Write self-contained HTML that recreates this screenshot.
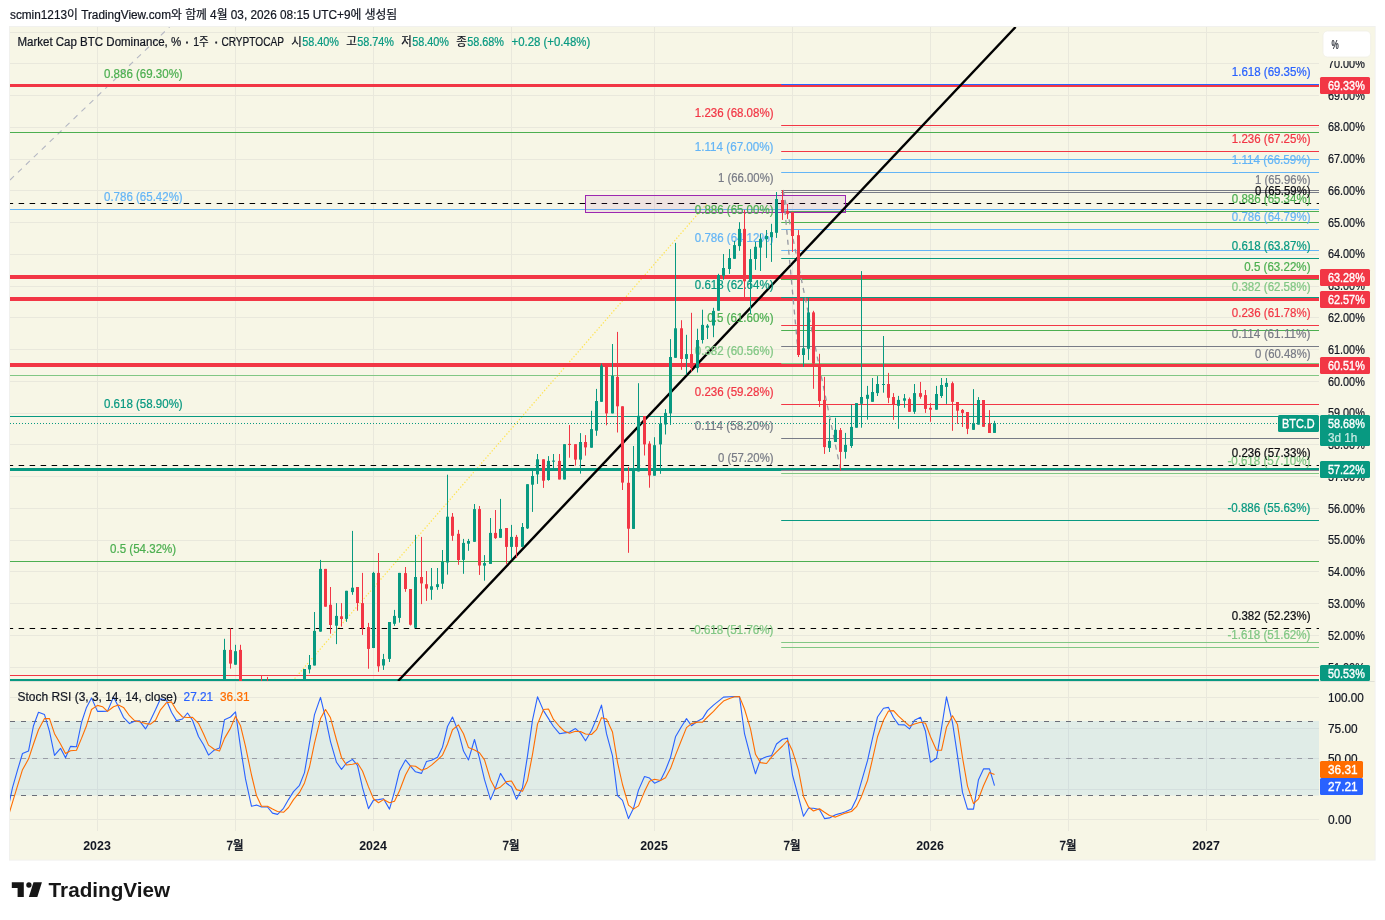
<!DOCTYPE html>
<html lang="ko"><head><meta charset="utf-8"><title>BTC.D</title>
<style>html,body{margin:0;padding:0;background:#fff;}svg{display:block}</style></head>
<body>
<svg width="1385" height="920" viewBox="0 0 1385 920" font-family='"Liberation Sans", "Noto Sans CJK KR", sans-serif'>
<rect x="0" y="0" width="1385" height="920" fill="#ffffff"/>
<text x="10.00" y="19.00" fill="#131722" font-size="12" text-anchor="start" font-weight="normal" textLength="387.2" lengthAdjust="spacingAndGlyphs" id="hdr" stroke="#131722" stroke-width="0.22">scmin1213이 TradingView.com와 함께 4월 03, 2026 08:15 UTC+9에 생성됨</text>
<rect x="9" y="26" width="1366.6" height="834.6" fill="#f1f1ee"/>
<rect x="10" y="27" width="1364.6" height="832.6" fill="#f7f6e6"/>
<clipPath id="cm"><rect x="10" y="27" width="1309" height="654"/></clipPath>
<clipPath id="cs"><rect x="10" y="681" width="1309" height="150"/></clipPath>
<line x1="97.50" y1="27.00" x2="97.50" y2="831.00" stroke="#e9e8dc" stroke-width="1"/>
<line x1="235.50" y1="27.00" x2="235.50" y2="831.00" stroke="#e9e8dc" stroke-width="1"/>
<line x1="373.50" y1="27.00" x2="373.50" y2="831.00" stroke="#e9e8dc" stroke-width="1"/>
<line x1="511.50" y1="27.00" x2="511.50" y2="831.00" stroke="#e9e8dc" stroke-width="1"/>
<line x1="654.50" y1="27.00" x2="654.50" y2="831.00" stroke="#e9e8dc" stroke-width="1"/>
<line x1="792.50" y1="27.00" x2="792.50" y2="831.00" stroke="#e9e8dc" stroke-width="1"/>
<line x1="930.50" y1="27.00" x2="930.50" y2="831.00" stroke="#e9e8dc" stroke-width="1"/>
<line x1="1068.50" y1="27.00" x2="1068.50" y2="831.00" stroke="#e9e8dc" stroke-width="1"/>
<line x1="1206.50" y1="27.00" x2="1206.50" y2="831.00" stroke="#e9e8dc" stroke-width="1"/>
<line x1="10.00" y1="667.50" x2="1319.00" y2="667.50" stroke="#e9e8dc" stroke-width="1"/>
<line x1="10.00" y1="635.50" x2="1319.00" y2="635.50" stroke="#e9e8dc" stroke-width="1"/>
<line x1="10.00" y1="603.50" x2="1319.00" y2="603.50" stroke="#e9e8dc" stroke-width="1"/>
<line x1="10.00" y1="571.50" x2="1319.00" y2="571.50" stroke="#e9e8dc" stroke-width="1"/>
<line x1="10.00" y1="540.50" x2="1319.00" y2="540.50" stroke="#e9e8dc" stroke-width="1"/>
<line x1="10.00" y1="508.50" x2="1319.00" y2="508.50" stroke="#e9e8dc" stroke-width="1"/>
<line x1="10.00" y1="476.50" x2="1319.00" y2="476.50" stroke="#e9e8dc" stroke-width="1"/>
<line x1="10.00" y1="444.50" x2="1319.00" y2="444.50" stroke="#e9e8dc" stroke-width="1"/>
<line x1="10.00" y1="413.50" x2="1319.00" y2="413.50" stroke="#e9e8dc" stroke-width="1"/>
<line x1="10.00" y1="381.50" x2="1319.00" y2="381.50" stroke="#e9e8dc" stroke-width="1"/>
<line x1="10.00" y1="349.50" x2="1319.00" y2="349.50" stroke="#e9e8dc" stroke-width="1"/>
<line x1="10.00" y1="317.50" x2="1319.00" y2="317.50" stroke="#e9e8dc" stroke-width="1"/>
<line x1="10.00" y1="286.50" x2="1319.00" y2="286.50" stroke="#e9e8dc" stroke-width="1"/>
<line x1="10.00" y1="254.50" x2="1319.00" y2="254.50" stroke="#e9e8dc" stroke-width="1"/>
<line x1="10.00" y1="222.50" x2="1319.00" y2="222.50" stroke="#e9e8dc" stroke-width="1"/>
<line x1="10.00" y1="190.50" x2="1319.00" y2="190.50" stroke="#e9e8dc" stroke-width="1"/>
<line x1="10.00" y1="159.50" x2="1319.00" y2="159.50" stroke="#e9e8dc" stroke-width="1"/>
<line x1="10.00" y1="127.50" x2="1319.00" y2="127.50" stroke="#e9e8dc" stroke-width="1"/>
<line x1="10.00" y1="95.50" x2="1319.00" y2="95.50" stroke="#e9e8dc" stroke-width="1"/>
<line x1="10.00" y1="63.50" x2="1319.00" y2="63.50" stroke="#e9e8dc" stroke-width="1"/>
<line x1="10.00" y1="32.50" x2="1319.00" y2="32.50" stroke="#e9e8dc" stroke-width="1"/>
<line x1="10.00" y1="697.50" x2="1319.00" y2="697.50" stroke="#e9e8dc" stroke-width="1"/>
<line x1="10.00" y1="728.50" x2="1319.00" y2="728.50" stroke="#e9e8dc" stroke-width="1"/>
<line x1="10.00" y1="758.50" x2="1319.00" y2="758.50" stroke="#e9e8dc" stroke-width="1"/>
<line x1="10.00" y1="789.50" x2="1319.00" y2="789.50" stroke="#e9e8dc" stroke-width="1"/>
<line x1="10.00" y1="819.50" x2="1319.00" y2="819.50" stroke="#e9e8dc" stroke-width="1"/>
<line x1="10.00" y1="681.50" x2="1374.60" y2="681.50" stroke="#e0e0d6" stroke-width="1"/>
<g clip-path="url(#cm)">
<line x1="10.00" y1="180.00" x2="170.00" y2="26.50" stroke="#b4b7c3" stroke-width="1.1" stroke-dasharray="5.5 5.5"/>
<line x1="292.50" y1="681.00" x2="706.50" y2="204.00" stroke="#ffe34f" stroke-width="1.2" stroke-dasharray="1.3 1.9"/>
<line x1="10.00" y1="86.50" x2="1319.00" y2="86.50" stroke="#4caf50" stroke-width="1"/>
<line x1="10.00" y1="132.50" x2="1319.00" y2="132.50" stroke="#4caf50" stroke-width="1"/>
<line x1="10.00" y1="209.50" x2="1319.00" y2="209.50" stroke="#64b5f6" stroke-width="1"/>
<line x1="10.00" y1="375.50" x2="1319.00" y2="375.50" stroke="#81c784" stroke-width="1"/>
<line x1="10.00" y1="416.50" x2="1319.00" y2="416.50" stroke="#089981" stroke-width="1"/>
<line x1="10.00" y1="561.50" x2="1319.00" y2="561.50" stroke="#4caf50" stroke-width="1"/>
<line x1="781.20" y1="125.50" x2="1319.00" y2="125.50" stroke="#f23645" stroke-width="1"/>
<line x1="781.20" y1="159.50" x2="1319.00" y2="159.50" stroke="#64b5f6" stroke-width="1"/>
<line x1="781.20" y1="190.50" x2="1319.00" y2="190.50" stroke="#787b86" stroke-width="1"/>
<line x1="781.20" y1="222.50" x2="1319.00" y2="222.50" stroke="#4caf50" stroke-width="1"/>
<line x1="781.20" y1="250.50" x2="1319.00" y2="250.50" stroke="#64b5f6" stroke-width="1"/>
<line x1="781.20" y1="297.50" x2="1319.00" y2="297.50" stroke="#089981" stroke-width="1"/>
<line x1="781.20" y1="330.50" x2="1319.00" y2="330.50" stroke="#4caf50" stroke-width="1"/>
<line x1="781.20" y1="363.50" x2="1319.00" y2="363.50" stroke="#81c784" stroke-width="1"/>
<line x1="781.20" y1="404.50" x2="1319.00" y2="404.50" stroke="#f23645" stroke-width="1"/>
<line x1="781.20" y1="438.50" x2="1319.00" y2="438.50" stroke="#787b86" stroke-width="1"/>
<line x1="781.20" y1="470.50" x2="1319.00" y2="470.50" stroke="#787b86" stroke-width="1"/>
<line x1="781.20" y1="642.50" x2="1319.00" y2="642.50" stroke="#81c784" stroke-width="1"/>
<line x1="781.20" y1="151.50" x2="1319.00" y2="151.50" stroke="#f23645" stroke-width="1"/>
<line x1="781.20" y1="172.50" x2="1319.00" y2="172.50" stroke="#64b5f6" stroke-width="1"/>
<line x1="781.20" y1="192.50" x2="1319.00" y2="192.50" stroke="#787b86" stroke-width="1"/>
<line x1="781.20" y1="211.50" x2="1319.00" y2="211.50" stroke="#4caf50" stroke-width="1"/>
<line x1="781.20" y1="229.50" x2="1319.00" y2="229.50" stroke="#64b5f6" stroke-width="1"/>
<line x1="781.20" y1="258.50" x2="1319.00" y2="258.50" stroke="#089981" stroke-width="1"/>
<line x1="781.20" y1="279.50" x2="1319.00" y2="279.50" stroke="#4caf50" stroke-width="1"/>
<line x1="781.20" y1="299.50" x2="1319.00" y2="299.50" stroke="#81c784" stroke-width="1"/>
<line x1="781.20" y1="325.50" x2="1319.00" y2="325.50" stroke="#f23645" stroke-width="1"/>
<line x1="781.20" y1="346.50" x2="1319.00" y2="346.50" stroke="#787b86" stroke-width="1"/>
<line x1="781.20" y1="366.50" x2="1319.00" y2="366.50" stroke="#787b86" stroke-width="1"/>
<line x1="781.20" y1="473.50" x2="1319.00" y2="473.50" stroke="#81c784" stroke-width="1"/>
<line x1="781.20" y1="520.50" x2="1319.00" y2="520.50" stroke="#089981" stroke-width="1"/>
<line x1="781.20" y1="647.50" x2="1319.00" y2="647.50" stroke="#81c784" stroke-width="1"/>
<line x1="10.00" y1="85.50" x2="1319.00" y2="85.50" stroke="#f23645" stroke-width="3"/>
<line x1="781.20" y1="84.50" x2="1319.00" y2="84.50" stroke="#2962ff" stroke-width="1"/>
<line x1="10.00" y1="277.00" x2="1319.00" y2="277.00" stroke="#f23645" stroke-width="4"/>
<line x1="781.20" y1="279.50" x2="1319.00" y2="279.50" stroke="#4caf50" stroke-width="1"/>
<line x1="10.00" y1="299.00" x2="1319.00" y2="299.00" stroke="#f23645" stroke-width="4"/>
<line x1="781.20" y1="297.50" x2="1319.00" y2="297.50" stroke="#089981" stroke-width="1"/>
<line x1="10.00" y1="365.00" x2="1319.00" y2="365.00" stroke="#f23645" stroke-width="4"/>
<line x1="781.20" y1="363.50" x2="1319.00" y2="363.50" stroke="#81c784" stroke-width="1"/>
<line x1="10.00" y1="469.50" x2="1319.00" y2="469.50" stroke="#089981" stroke-width="3"/>
<line x1="781.20" y1="470.50" x2="1319.00" y2="470.50" stroke="#8a7f92" stroke-width="1"/>
<line x1="10.00" y1="675.50" x2="1319.00" y2="675.50" stroke="#f23645" stroke-width="1"/>
<line x1="10.00" y1="680.50" x2="1319.00" y2="680.50" stroke="#089981" stroke-width="3"/>
<line x1="10" y1="203.5" x2="1319" y2="203.5" stroke="#000000" stroke-width="1" stroke-dasharray="5.5 5.5" stroke-dashoffset="2.35"/>
<line x1="10" y1="465.5" x2="1319" y2="465.5" stroke="#000000" stroke-width="1" stroke-dasharray="5.5 5.5" stroke-dashoffset="2.35"/>
<line x1="10" y1="628.5" x2="1319" y2="628.5" stroke="#000000" stroke-width="1" stroke-dasharray="5.5 5.5" stroke-dashoffset="2.35"/>
<rect x="585.5" y="195.5" width="260" height="17" fill="rgba(156,39,176,0.09)" stroke="#9c27b0" stroke-width="1"/>
<line x1="398.10" y1="681.00" x2="1015.60" y2="27.00" stroke="#000000" stroke-width="2.4"/>
<line x1="783.00" y1="190.00" x2="798.60" y2="357.00" stroke="#9598a1" stroke-width="1.3" stroke-dasharray="5 5"/>
<line x1="783.00" y1="190.00" x2="840.60" y2="470.00" stroke="#9598a1" stroke-width="1.3" stroke-dasharray="5 5"/>
<text x="104.00" y="78.20" fill="#4caf50" font-size="12" text-anchor="start" font-weight="normal" textLength="78.7" lengthAdjust="spacingAndGlyphs" stroke="#4caf50" stroke-width="0.22">0.886 (69.30%)</text>
<text x="104.00" y="201.20" fill="#64b5f6" font-size="12" text-anchor="start" font-weight="normal" textLength="78.7" lengthAdjust="spacingAndGlyphs" stroke="#64b5f6" stroke-width="0.22">0.786 (65.42%)</text>
<text x="104.00" y="408.20" fill="#089981" font-size="12" text-anchor="start" font-weight="normal" textLength="78.7" lengthAdjust="spacingAndGlyphs" stroke="#089981" stroke-width="0.22">0.618 (58.90%)</text>
<text x="110.00" y="553.20" fill="#4caf50" font-size="12" text-anchor="start" font-weight="normal" textLength="66.2" lengthAdjust="spacingAndGlyphs" stroke="#4caf50" stroke-width="0.22">0.5 (54.32%)</text>
<text x="773.50" y="117.20" fill="#f23645" font-size="12" text-anchor="end" font-weight="normal" textLength="78.7" lengthAdjust="spacingAndGlyphs" stroke="#f23645" stroke-width="0.22">1.236 (68.08%)</text>
<text x="773.50" y="151.20" fill="#64b5f6" font-size="12" text-anchor="end" font-weight="normal" textLength="78.7" lengthAdjust="spacingAndGlyphs" stroke="#64b5f6" stroke-width="0.22">1.114 (67.00%)</text>
<text x="773.50" y="182.20" fill="#787b86" font-size="12" text-anchor="end" font-weight="normal" textLength="55.5" lengthAdjust="spacingAndGlyphs" stroke="#787b86" stroke-width="0.22">1 (66.00%)</text>
<text x="773.50" y="214.20" fill="#4caf50" font-size="12" text-anchor="end" font-weight="normal" textLength="78.7" lengthAdjust="spacingAndGlyphs" stroke="#4caf50" stroke-width="0.22">0.886 (65.00%)</text>
<text x="773.50" y="242.20" fill="#64b5f6" font-size="12" text-anchor="end" font-weight="normal" textLength="78.7" lengthAdjust="spacingAndGlyphs" stroke="#64b5f6" stroke-width="0.22">0.786 (64.12%)</text>
<text x="773.50" y="289.20" fill="#089981" font-size="12" text-anchor="end" font-weight="normal" textLength="78.7" lengthAdjust="spacingAndGlyphs" stroke="#089981" stroke-width="0.22">0.618 (62.64%)</text>
<text x="773.50" y="322.20" fill="#4caf50" font-size="12" text-anchor="end" font-weight="normal" textLength="66.2" lengthAdjust="spacingAndGlyphs" stroke="#4caf50" stroke-width="0.22">0.5 (61.60%)</text>
<text x="773.50" y="355.20" fill="#81c784" font-size="12" text-anchor="end" font-weight="normal" textLength="78.7" lengthAdjust="spacingAndGlyphs" stroke="#81c784" stroke-width="0.22">0.382 (60.56%)</text>
<text x="773.50" y="396.20" fill="#f23645" font-size="12" text-anchor="end" font-weight="normal" textLength="78.7" lengthAdjust="spacingAndGlyphs" stroke="#f23645" stroke-width="0.22">0.236 (59.28%)</text>
<text x="773.50" y="430.20" fill="#787b86" font-size="12" text-anchor="end" font-weight="normal" textLength="78.7" lengthAdjust="spacingAndGlyphs" stroke="#787b86" stroke-width="0.22">0.114 (58.20%)</text>
<text x="773.50" y="462.20" fill="#787b86" font-size="12" text-anchor="end" font-weight="normal" textLength="55.5" lengthAdjust="spacingAndGlyphs" stroke="#787b86" stroke-width="0.22">0 (57.20%)</text>
<text x="773.50" y="634.20" fill="#81c784" font-size="12" text-anchor="end" font-weight="normal" textLength="83.1" lengthAdjust="spacingAndGlyphs" stroke="#81c784" stroke-width="0.22">-0.618 (51.76%)</text>
<text x="1310.50" y="76.20" fill="#2962ff" font-size="12" text-anchor="end" font-weight="normal" textLength="78.7" lengthAdjust="spacingAndGlyphs" stroke="#2962ff" stroke-width="0.22">1.618 (69.35%)</text>
<text x="1310.50" y="143.20" fill="#f23645" font-size="12" text-anchor="end" font-weight="normal" textLength="78.7" lengthAdjust="spacingAndGlyphs" stroke="#f23645" stroke-width="0.22">1.236 (67.25%)</text>
<text x="1310.50" y="164.20" fill="#64b5f6" font-size="12" text-anchor="end" font-weight="normal" textLength="78.7" lengthAdjust="spacingAndGlyphs" stroke="#64b5f6" stroke-width="0.22">1.114 (66.59%)</text>
<text x="1310.50" y="184.20" fill="#787b86" font-size="12" text-anchor="end" font-weight="normal" textLength="55.5" lengthAdjust="spacingAndGlyphs" stroke="#787b86" stroke-width="0.22">1 (65.96%)</text>
<text x="1310.50" y="203.20" fill="#4caf50" font-size="12" text-anchor="end" font-weight="normal" textLength="78.7" lengthAdjust="spacingAndGlyphs" stroke="#4caf50" stroke-width="0.22">0.886 (65.34%)</text>
<text x="1310.50" y="221.20" fill="#64b5f6" font-size="12" text-anchor="end" font-weight="normal" textLength="78.7" lengthAdjust="spacingAndGlyphs" stroke="#64b5f6" stroke-width="0.22">0.786 (64.79%)</text>
<text x="1310.50" y="250.20" fill="#089981" font-size="12" text-anchor="end" font-weight="normal" textLength="78.7" lengthAdjust="spacingAndGlyphs" stroke="#089981" stroke-width="0.22">0.618 (63.87%)</text>
<text x="1310.50" y="271.20" fill="#4caf50" font-size="12" text-anchor="end" font-weight="normal" textLength="66.2" lengthAdjust="spacingAndGlyphs" stroke="#4caf50" stroke-width="0.22">0.5 (63.22%)</text>
<text x="1310.50" y="291.20" fill="#81c784" font-size="12" text-anchor="end" font-weight="normal" textLength="78.7" lengthAdjust="spacingAndGlyphs" stroke="#81c784" stroke-width="0.22">0.382 (62.58%)</text>
<text x="1310.50" y="317.20" fill="#f23645" font-size="12" text-anchor="end" font-weight="normal" textLength="78.7" lengthAdjust="spacingAndGlyphs" stroke="#f23645" stroke-width="0.22">0.236 (61.78%)</text>
<text x="1310.50" y="338.20" fill="#787b86" font-size="12" text-anchor="end" font-weight="normal" textLength="78.7" lengthAdjust="spacingAndGlyphs" stroke="#787b86" stroke-width="0.22">0.114 (61.11%)</text>
<text x="1310.50" y="358.20" fill="#787b86" font-size="12" text-anchor="end" font-weight="normal" textLength="55.5" lengthAdjust="spacingAndGlyphs" stroke="#787b86" stroke-width="0.22">0 (60.48%)</text>
<text x="1310.50" y="465.20" fill="#81c784" font-size="12" text-anchor="end" font-weight="normal" textLength="83.1" lengthAdjust="spacingAndGlyphs" stroke="#81c784" stroke-width="0.22">-0.618 (57.10%)</text>
<text x="1310.50" y="512.20" fill="#089981" font-size="12" text-anchor="end" font-weight="normal" textLength="83.1" lengthAdjust="spacingAndGlyphs" stroke="#089981" stroke-width="0.22">-0.886 (55.63%)</text>
<text x="1310.50" y="639.20" fill="#81c784" font-size="12" text-anchor="end" font-weight="normal" textLength="83.1" lengthAdjust="spacingAndGlyphs" stroke="#81c784" stroke-width="0.22">-1.618 (51.62%)</text>
<text x="1310.50" y="195.20" fill="#0c0d12" font-size="12" text-anchor="end" font-weight="normal" textLength="55.5" lengthAdjust="spacingAndGlyphs" stroke="#0c0d12" stroke-width="0.22">0 (65.59%)</text>
<text x="1310.50" y="457.20" fill="#0c0d12" font-size="12" text-anchor="end" font-weight="normal" textLength="78.7" lengthAdjust="spacingAndGlyphs" stroke="#0c0d12" stroke-width="0.22">0.236 (57.33%)</text>
<text x="1310.50" y="620.20" fill="#0c0d12" font-size="12" text-anchor="end" font-weight="normal" textLength="78.7" lengthAdjust="spacingAndGlyphs" stroke="#0c0d12" stroke-width="0.22">0.382 (52.23%)</text>
<rect x="224.0" y="638.8" width="1" height="61.2" fill="#089981"/>
<rect x="223.0" y="649.9" width="3" height="50.1" fill="#089981"/>
<rect x="230.0" y="628.3" width="1" height="40.3" fill="#f23645"/>
<rect x="229.0" y="649.9" width="3" height="13.7" fill="#f23645"/>
<rect x="235.0" y="644.8" width="1" height="19.9" fill="#089981"/>
<rect x="234.0" y="651.2" width="3" height="13.5" fill="#089981"/>
<rect x="240.0" y="644.8" width="1" height="55.2" fill="#f23645"/>
<rect x="239.0" y="649.9" width="3" height="50.1" fill="#f23645"/>
<rect x="261.0" y="675.0" width="1" height="25.0" fill="#f23645"/>
<rect x="260.0" y="700.0" width="3" height="1.0" fill="#f23645"/>
<rect x="267.0" y="676.9" width="1" height="23.1" fill="#f23645"/>
<rect x="266.0" y="700.0" width="3" height="1.0" fill="#f23645"/>
<rect x="304.0" y="669.0" width="1" height="31.0" fill="#089981"/>
<rect x="303.0" y="669.0" width="3" height="31.0" fill="#089981"/>
<rect x="309.0" y="655.0" width="1" height="18.4" fill="#089981"/>
<rect x="308.0" y="665.0" width="3" height="4.4" fill="#089981"/>
<rect x="314.0" y="612.0" width="1" height="53.5" fill="#089981"/>
<rect x="313.0" y="630.9" width="3" height="34.6" fill="#089981"/>
<rect x="320.0" y="559.9" width="1" height="71.8" fill="#089981"/>
<rect x="319.0" y="568.9" width="3" height="62.7" fill="#089981"/>
<rect x="325.0" y="568.9" width="1" height="37.8" fill="#f23645"/>
<rect x="324.0" y="568.9" width="3" height="37.8" fill="#f23645"/>
<rect x="330.0" y="587.0" width="1" height="46.7" fill="#f23645"/>
<rect x="329.0" y="604.8" width="3" height="20.2" fill="#f23645"/>
<rect x="336.0" y="603.1" width="1" height="41.0" fill="#089981"/>
<rect x="335.0" y="615.9" width="3" height="9.8" fill="#089981"/>
<rect x="341.0" y="603.1" width="1" height="23.5" fill="#f23645"/>
<rect x="340.0" y="616.3" width="3" height="2.7" fill="#f23645"/>
<rect x="346.0" y="590.8" width="1" height="31.0" fill="#089981"/>
<rect x="345.0" y="590.8" width="3" height="28.1" fill="#089981"/>
<rect x="352.0" y="530.9" width="1" height="63.9" fill="#089981"/>
<rect x="351.0" y="587.7" width="3" height="4.4" fill="#089981"/>
<rect x="357.0" y="587.0" width="1" height="23.7" fill="#f23645"/>
<rect x="356.0" y="587.0" width="3" height="16.0" fill="#f23645"/>
<rect x="362.0" y="572.9" width="1" height="62.0" fill="#f23645"/>
<rect x="361.0" y="603.1" width="3" height="25.1" fill="#f23645"/>
<rect x="368.0" y="622.9" width="1" height="45.8" fill="#f23645"/>
<rect x="367.0" y="627.1" width="3" height="21.8" fill="#f23645"/>
<rect x="373.0" y="571.8" width="1" height="76.3" fill="#089981"/>
<rect x="372.0" y="572.9" width="3" height="75.1" fill="#089981"/>
<rect x="378.0" y="553.0" width="1" height="118.8" fill="#f23645"/>
<rect x="377.0" y="572.9" width="3" height="93.4" fill="#f23645"/>
<rect x="383.0" y="653.9" width="1" height="16.0" fill="#089981"/>
<rect x="382.0" y="659.1" width="3" height="6.4" fill="#089981"/>
<rect x="389.0" y="622.0" width="1" height="40.0" fill="#089981"/>
<rect x="388.0" y="622.0" width="3" height="36.9" fill="#089981"/>
<rect x="394.0" y="609.9" width="1" height="15.9" fill="#089981"/>
<rect x="393.0" y="615.9" width="3" height="7.9" fill="#089981"/>
<rect x="399.0" y="572.9" width="1" height="49.7" fill="#089981"/>
<rect x="398.0" y="572.9" width="3" height="45.0" fill="#089981"/>
<rect x="405.0" y="567.0" width="1" height="24.8" fill="#f23645"/>
<rect x="404.0" y="573.1" width="3" height="15.9" fill="#f23645"/>
<rect x="410.0" y="589.0" width="1" height="36.5" fill="#f23645"/>
<rect x="409.0" y="589.0" width="3" height="35.7" fill="#f23645"/>
<rect x="415.0" y="534.9" width="1" height="92.9" fill="#089981"/>
<rect x="414.0" y="577.0" width="3" height="50.8" fill="#089981"/>
<rect x="421.0" y="536.9" width="1" height="67.2" fill="#f23645"/>
<rect x="420.0" y="577.0" width="3" height="6.4" fill="#f23645"/>
<rect x="426.0" y="571.0" width="1" height="29.9" fill="#f23645"/>
<rect x="425.0" y="584.2" width="3" height="4.4" fill="#f23645"/>
<rect x="431.0" y="568.0" width="1" height="31.8" fill="#089981"/>
<rect x="430.0" y="586.3" width="3" height="3.5" fill="#089981"/>
<rect x="437.0" y="568.0" width="1" height="21.8" fill="#089981"/>
<rect x="436.0" y="584.2" width="3" height="2.9" fill="#089981"/>
<rect x="442.0" y="550.0" width="1" height="38.9" fill="#089981"/>
<rect x="441.0" y="561.6" width="3" height="22.1" fill="#089981"/>
<rect x="447.0" y="474.7" width="1" height="99.9" fill="#089981"/>
<rect x="446.0" y="516.7" width="3" height="45.8" fill="#089981"/>
<rect x="452.0" y="513.0" width="1" height="27.8" fill="#f23645"/>
<rect x="451.0" y="516.7" width="3" height="19.1" fill="#f23645"/>
<rect x="458.0" y="529.9" width="1" height="34.9" fill="#f23645"/>
<rect x="457.0" y="533.8" width="3" height="26.2" fill="#f23645"/>
<rect x="463.0" y="538.9" width="1" height="34.9" fill="#089981"/>
<rect x="462.0" y="542.9" width="3" height="17.0" fill="#089981"/>
<rect x="468.0" y="538.9" width="1" height="11.9" fill="#089981"/>
<rect x="467.0" y="541.0" width="3" height="2.7" fill="#089981"/>
<rect x="474.0" y="504.0" width="1" height="37.8" fill="#089981"/>
<rect x="473.0" y="509.1" width="3" height="32.7" fill="#089981"/>
<rect x="479.0" y="506.0" width="1" height="68.9" fill="#f23645"/>
<rect x="478.0" y="509.1" width="3" height="56.4" fill="#f23645"/>
<rect x="484.0" y="555.1" width="1" height="25.6" fill="#089981"/>
<rect x="483.0" y="563.1" width="3" height="2.5" fill="#089981"/>
<rect x="490.0" y="518.0" width="1" height="45.9" fill="#089981"/>
<rect x="489.0" y="532.9" width="3" height="31.0" fill="#089981"/>
<rect x="495.0" y="510.0" width="1" height="28.9" fill="#f23645"/>
<rect x="494.0" y="532.9" width="3" height="5.2" fill="#f23645"/>
<rect x="500.0" y="498.9" width="1" height="38.9" fill="#089981"/>
<rect x="499.0" y="528.9" width="3" height="8.9" fill="#089981"/>
<rect x="506.0" y="528.0" width="1" height="35.9" fill="#f23645"/>
<rect x="505.0" y="528.0" width="3" height="18.9" fill="#f23645"/>
<rect x="511.0" y="524.9" width="1" height="34.2" fill="#089981"/>
<rect x="510.0" y="536.9" width="3" height="10.0" fill="#089981"/>
<rect x="516.0" y="534.9" width="1" height="23.0" fill="#f23645"/>
<rect x="515.0" y="536.9" width="3" height="10.0" fill="#f23645"/>
<rect x="522.0" y="523.0" width="1" height="23.8" fill="#089981"/>
<rect x="521.0" y="527.0" width="3" height="19.9" fill="#089981"/>
<rect x="527.0" y="484.2" width="1" height="44.8" fill="#089981"/>
<rect x="526.0" y="484.2" width="3" height="44.2" fill="#089981"/>
<rect x="532.0" y="469.6" width="1" height="42.3" fill="#089981"/>
<rect x="531.0" y="476.0" width="3" height="8.7" fill="#089981"/>
<rect x="537.0" y="454.0" width="1" height="29.9" fill="#089981"/>
<rect x="536.0" y="459.3" width="3" height="15.1" fill="#089981"/>
<rect x="543.0" y="459.3" width="1" height="28.6" fill="#f23645"/>
<rect x="542.0" y="459.3" width="3" height="21.4" fill="#f23645"/>
<rect x="548.0" y="456.1" width="1" height="24.6" fill="#089981"/>
<rect x="547.0" y="460.9" width="3" height="19.1" fill="#089981"/>
<rect x="553.0" y="454.0" width="1" height="14.0" fill="#089981"/>
<rect x="552.0" y="460.6" width="3" height="1.1" fill="#089981"/>
<rect x="559.0" y="454.0" width="1" height="25.4" fill="#f23645"/>
<rect x="558.0" y="460.9" width="3" height="18.6" fill="#f23645"/>
<rect x="564.0" y="444.2" width="1" height="35.3" fill="#089981"/>
<rect x="563.0" y="444.2" width="3" height="35.3" fill="#089981"/>
<rect x="569.0" y="425.1" width="1" height="32.6" fill="#f23645"/>
<rect x="568.0" y="443.9" width="3" height="1.1" fill="#f23645"/>
<rect x="575.0" y="444.2" width="1" height="21.4" fill="#f23645"/>
<rect x="574.0" y="444.2" width="3" height="15.4" fill="#f23645"/>
<rect x="580.0" y="433.1" width="1" height="40.5" fill="#089981"/>
<rect x="579.0" y="442.0" width="3" height="17.6" fill="#089981"/>
<rect x="585.0" y="435.1" width="1" height="20.5" fill="#f23645"/>
<rect x="584.0" y="442.0" width="3" height="5.4" fill="#f23645"/>
<rect x="591.0" y="410.8" width="1" height="36.9" fill="#089981"/>
<rect x="590.0" y="429.1" width="3" height="18.6" fill="#089981"/>
<rect x="596.0" y="388.9" width="1" height="46.9" fill="#089981"/>
<rect x="595.0" y="401.0" width="3" height="29.7" fill="#089981"/>
<rect x="601.0" y="363.5" width="1" height="38.3" fill="#089981"/>
<rect x="600.0" y="365.6" width="3" height="36.2" fill="#089981"/>
<rect x="606.0" y="365.7" width="1" height="59.6" fill="#f23645"/>
<rect x="605.0" y="365.7" width="3" height="47.7" fill="#f23645"/>
<rect x="612.0" y="344.0" width="1" height="69.4" fill="#089981"/>
<rect x="611.0" y="375.8" width="3" height="37.6" fill="#089981"/>
<rect x="617.0" y="331.9" width="1" height="100.6" fill="#f23645"/>
<rect x="616.0" y="376.9" width="3" height="29.4" fill="#f23645"/>
<rect x="622.0" y="406.3" width="1" height="83.7" fill="#f23645"/>
<rect x="621.0" y="406.3" width="3" height="76.3" fill="#f23645"/>
<rect x="628.0" y="466.9" width="1" height="85.9" fill="#f23645"/>
<rect x="627.0" y="482.8" width="3" height="45.9" fill="#f23645"/>
<rect x="633.0" y="446.0" width="1" height="82.9" fill="#089981"/>
<rect x="632.0" y="468.2" width="3" height="60.7" fill="#089981"/>
<rect x="638.0" y="383.2" width="1" height="88.2" fill="#089981"/>
<rect x="637.0" y="415.8" width="3" height="55.6" fill="#089981"/>
<rect x="644.0" y="416.1" width="1" height="39.4" fill="#f23645"/>
<rect x="643.0" y="416.1" width="3" height="28.3" fill="#f23645"/>
<rect x="649.0" y="441.2" width="1" height="46.5" fill="#f23645"/>
<rect x="648.0" y="443.6" width="3" height="31.8" fill="#f23645"/>
<rect x="654.0" y="437.2" width="1" height="38.4" fill="#089981"/>
<rect x="653.0" y="445.2" width="3" height="30.5" fill="#089981"/>
<rect x="660.0" y="416.6" width="1" height="57.2" fill="#089981"/>
<rect x="659.0" y="423.7" width="3" height="20.7" fill="#089981"/>
<rect x="665.0" y="409.1" width="1" height="25.4" fill="#089981"/>
<rect x="664.0" y="412.9" width="3" height="11.6" fill="#089981"/>
<rect x="670.0" y="339.1" width="1" height="85.8" fill="#089981"/>
<rect x="669.0" y="357.0" width="3" height="56.4" fill="#089981"/>
<rect x="675.0" y="242.9" width="1" height="114.9" fill="#089981"/>
<rect x="674.0" y="328.3" width="3" height="29.5" fill="#089981"/>
<rect x="681.0" y="320.2" width="1" height="49.6" fill="#f23645"/>
<rect x="680.0" y="328.3" width="3" height="30.7" fill="#f23645"/>
<rect x="686.0" y="334.8" width="1" height="39.7" fill="#089981"/>
<rect x="685.0" y="354.1" width="3" height="4.8" fill="#089981"/>
<rect x="691.0" y="312.8" width="1" height="58.8" fill="#f23645"/>
<rect x="690.0" y="354.1" width="3" height="14.0" fill="#f23645"/>
<rect x="697.0" y="328.7" width="1" height="43.8" fill="#089981"/>
<rect x="696.0" y="340.0" width="3" height="28.1" fill="#089981"/>
<rect x="702.0" y="309.7" width="1" height="33.8" fill="#089981"/>
<rect x="701.0" y="324.9" width="3" height="15.1" fill="#089981"/>
<rect x="707.0" y="324.1" width="1" height="14.9" fill="#089981"/>
<rect x="706.0" y="325.6" width="3" height="2.1" fill="#089981"/>
<rect x="713.0" y="307.8" width="1" height="29.4" fill="#089981"/>
<rect x="712.0" y="310.9" width="3" height="14.6" fill="#089981"/>
<rect x="718.0" y="273.8" width="1" height="36.9" fill="#089981"/>
<rect x="717.0" y="275.0" width="3" height="35.7" fill="#089981"/>
<rect x="723.0" y="254.0" width="1" height="25.7" fill="#089981"/>
<rect x="722.0" y="268.0" width="3" height="7.8" fill="#089981"/>
<rect x="729.0" y="249.1" width="1" height="24.8" fill="#089981"/>
<rect x="728.0" y="258.0" width="3" height="11.0" fill="#089981"/>
<rect x="734.0" y="240.8" width="1" height="18.0" fill="#089981"/>
<rect x="733.0" y="245.1" width="3" height="13.7" fill="#089981"/>
<rect x="739.0" y="222.2" width="1" height="28.6" fill="#089981"/>
<rect x="738.0" y="228.9" width="3" height="17.2" fill="#089981"/>
<rect x="744.0" y="209.8" width="1" height="87.4" fill="#f23645"/>
<rect x="743.0" y="228.9" width="3" height="52.4" fill="#f23645"/>
<rect x="750.0" y="249.1" width="1" height="64.8" fill="#089981"/>
<rect x="749.0" y="259.1" width="3" height="23.0" fill="#089981"/>
<rect x="755.0" y="241.9" width="1" height="28.0" fill="#089981"/>
<rect x="754.0" y="246.8" width="3" height="12.2" fill="#089981"/>
<rect x="760.0" y="233.7" width="1" height="37.3" fill="#089981"/>
<rect x="759.0" y="238.9" width="3" height="8.7" fill="#089981"/>
<rect x="766.0" y="230.0" width="1" height="28.0" fill="#089981"/>
<rect x="765.0" y="236.0" width="3" height="3.2" fill="#089981"/>
<rect x="771.0" y="223.8" width="1" height="38.1" fill="#089981"/>
<rect x="770.0" y="232.1" width="3" height="5.1" fill="#089981"/>
<rect x="776.0" y="192.0" width="1" height="45.9" fill="#089981"/>
<rect x="775.0" y="199.0" width="3" height="33.8" fill="#089981"/>
<rect x="782.0" y="190.0" width="1" height="29.9" fill="#f23645"/>
<rect x="781.0" y="200.0" width="3" height="12.2" fill="#f23645"/>
<rect x="787.0" y="204.0" width="1" height="14.9" fill="#f23645"/>
<rect x="786.0" y="210.9" width="3" height="2.9" fill="#f23645"/>
<rect x="792.0" y="212.2" width="1" height="39.7" fill="#f23645"/>
<rect x="791.0" y="212.2" width="3" height="23.8" fill="#f23645"/>
<rect x="798.0" y="230.1" width="1" height="126.9" fill="#f23645"/>
<rect x="797.0" y="235.2" width="3" height="119.8" fill="#f23645"/>
<rect x="803.0" y="298.1" width="1" height="68.8" fill="#089981"/>
<rect x="802.0" y="348.3" width="3" height="6.7" fill="#089981"/>
<rect x="808.0" y="298.1" width="1" height="61.8" fill="#089981"/>
<rect x="807.0" y="312.4" width="3" height="36.4" fill="#089981"/>
<rect x="813.0" y="310.8" width="1" height="78.0" fill="#f23645"/>
<rect x="812.0" y="312.4" width="3" height="51.3" fill="#f23645"/>
<rect x="819.0" y="353.8" width="1" height="53.2" fill="#f23645"/>
<rect x="818.0" y="365.7" width="3" height="35.3" fill="#f23645"/>
<rect x="824.0" y="376.9" width="1" height="77.0" fill="#f23645"/>
<rect x="823.0" y="399.9" width="3" height="47.2" fill="#f23645"/>
<rect x="829.0" y="419.0" width="1" height="33.0" fill="#089981"/>
<rect x="828.0" y="440.9" width="3" height="7.0" fill="#089981"/>
<rect x="835.0" y="417.8" width="1" height="24.1" fill="#089981"/>
<rect x="834.0" y="429.8" width="3" height="12.2" fill="#089981"/>
<rect x="840.0" y="428.0" width="1" height="42.6" fill="#f23645"/>
<rect x="839.0" y="430.1" width="3" height="21.8" fill="#f23645"/>
<rect x="845.0" y="432.9" width="1" height="25.7" fill="#089981"/>
<rect x="844.0" y="444.9" width="3" height="7.0" fill="#089981"/>
<rect x="851.0" y="404.7" width="1" height="43.2" fill="#089981"/>
<rect x="850.0" y="426.9" width="3" height="19.1" fill="#089981"/>
<rect x="856.0" y="403.1" width="1" height="24.6" fill="#089981"/>
<rect x="855.0" y="403.1" width="3" height="24.6" fill="#089981"/>
<rect x="861.0" y="271.1" width="1" height="156.6" fill="#089981"/>
<rect x="860.0" y="397.0" width="3" height="6.8" fill="#089981"/>
<rect x="867.0" y="385.9" width="1" height="33.8" fill="#089981"/>
<rect x="866.0" y="394.8" width="3" height="4.0" fill="#089981"/>
<rect x="872.0" y="378.0" width="1" height="23.8" fill="#089981"/>
<rect x="871.0" y="392.0" width="3" height="9.8" fill="#089981"/>
<rect x="877.0" y="376.1" width="1" height="19.9" fill="#089981"/>
<rect x="876.0" y="384.0" width="3" height="9.1" fill="#089981"/>
<rect x="883.0" y="336.0" width="1" height="56.7" fill="#089981"/>
<rect x="882.0" y="384.0" width="3" height="1.0" fill="#089981"/>
<rect x="888.0" y="372.9" width="1" height="30.2" fill="#f23645"/>
<rect x="887.0" y="384.0" width="3" height="13.8" fill="#f23645"/>
<rect x="893.0" y="393.1" width="1" height="26.7" fill="#f23645"/>
<rect x="892.0" y="397.0" width="3" height="7.6" fill="#f23645"/>
<rect x="898.0" y="395.9" width="1" height="32.9" fill="#089981"/>
<rect x="897.0" y="399.9" width="3" height="5.9" fill="#089981"/>
<rect x="904.0" y="394.0" width="1" height="13.8" fill="#089981"/>
<rect x="903.0" y="398.3" width="3" height="2.4" fill="#089981"/>
<rect x="909.0" y="397.5" width="1" height="14.3" fill="#f23645"/>
<rect x="908.0" y="399.1" width="3" height="12.7" fill="#f23645"/>
<rect x="914.0" y="384.0" width="1" height="29.9" fill="#089981"/>
<rect x="913.0" y="393.1" width="3" height="18.7" fill="#089981"/>
<rect x="920.0" y="381.9" width="1" height="16.8" fill="#f23645"/>
<rect x="919.0" y="393.1" width="3" height="3.7" fill="#f23645"/>
<rect x="925.0" y="390.0" width="1" height="22.9" fill="#f23645"/>
<rect x="924.0" y="395.1" width="3" height="13.8" fill="#f23645"/>
<rect x="930.0" y="403.1" width="1" height="18.7" fill="#f23645"/>
<rect x="929.0" y="407.8" width="3" height="1.9" fill="#f23645"/>
<rect x="936.0" y="385.9" width="1" height="23.8" fill="#089981"/>
<rect x="935.0" y="394.0" width="3" height="15.7" fill="#089981"/>
<rect x="941.0" y="378.0" width="1" height="19.9" fill="#089981"/>
<rect x="940.0" y="385.0" width="3" height="11.0" fill="#089981"/>
<rect x="946.0" y="378.0" width="1" height="25.9" fill="#089981"/>
<rect x="945.0" y="382.9" width="3" height="4.0" fill="#089981"/>
<rect x="952.0" y="381.6" width="1" height="49.2" fill="#f23645"/>
<rect x="951.0" y="383.2" width="3" height="18.6" fill="#f23645"/>
<rect x="957.0" y="402.0" width="1" height="21.8" fill="#f23645"/>
<rect x="956.0" y="402.0" width="3" height="8.7" fill="#f23645"/>
<rect x="962.0" y="409.0" width="1" height="18.0" fill="#f23645"/>
<rect x="961.0" y="409.9" width="3" height="3.0" fill="#f23645"/>
<rect x="967.0" y="412.0" width="1" height="22.1" fill="#f23645"/>
<rect x="966.0" y="412.0" width="3" height="16.8" fill="#f23645"/>
<rect x="973.0" y="389.1" width="1" height="40.8" fill="#089981"/>
<rect x="972.0" y="423.1" width="3" height="6.7" fill="#089981"/>
<rect x="978.0" y="397.1" width="1" height="27.5" fill="#089981"/>
<rect x="977.0" y="400.0" width="3" height="24.6" fill="#089981"/>
<rect x="983.0" y="400.0" width="1" height="26.8" fill="#f23645"/>
<rect x="982.0" y="400.0" width="3" height="26.8" fill="#f23645"/>
<rect x="989.0" y="410.1" width="1" height="22.9" fill="#f23645"/>
<rect x="988.0" y="423.4" width="3" height="9.6" fill="#f23645"/>
<rect x="994.0" y="420.8" width="1" height="12.1" fill="#089981"/>
<rect x="993.0" y="423.1" width="3" height="9.8" fill="#089981"/>
<line x1="10.00" y1="423.50" x2="1319.00" y2="423.50" stroke="#089981" stroke-width="1" stroke-dasharray="1 2"/>
</g>
<text x="17.40" y="46.40" fill="#131722" font-size="12" text-anchor="start" font-weight="normal" textLength="163.8" lengthAdjust="spacingAndGlyphs" stroke="#131722" stroke-width="0.22">Market Cap BTC Dominance, %</text>
<text x="186.90" y="46.40" fill="#131722" font-size="12" text-anchor="middle" font-weight="normal" stroke="#131722" stroke-width="0.6">·</text>
<text x="193.30" y="46.40" fill="#131722" font-size="12" text-anchor="start" font-weight="normal" textLength="15.4" lengthAdjust="spacingAndGlyphs" stroke="#131722" stroke-width="0.22">1주</text>
<text x="216.20" y="46.40" fill="#131722" font-size="12" text-anchor="middle" font-weight="normal" stroke="#131722" stroke-width="0.6">·</text>
<text x="221.40" y="46.40" fill="#131722" font-size="12" text-anchor="start" font-weight="normal" textLength="62.6" lengthAdjust="spacingAndGlyphs" stroke="#131722" stroke-width="0.22">CRYPTOCAP</text>
<text x="291.30" y="46.40" fill="#131722" font-size="12" text-anchor="start" font-weight="normal" textLength="10.6" lengthAdjust="spacingAndGlyphs" stroke="#131722" stroke-width="0.22">시</text>
<text x="302.20" y="46.40" fill="#089981" font-size="12" text-anchor="start" font-weight="normal" textLength="36.8" lengthAdjust="spacingAndGlyphs" stroke="#089981" stroke-width="0.22">58.40%</text>
<text x="346.30" y="46.40" fill="#131722" font-size="12" text-anchor="start" font-weight="normal" textLength="10.6" lengthAdjust="spacingAndGlyphs" stroke="#131722" stroke-width="0.22">고</text>
<text x="357.20" y="46.40" fill="#089981" font-size="12" text-anchor="start" font-weight="normal" textLength="36.8" lengthAdjust="spacingAndGlyphs" stroke="#089981" stroke-width="0.22">58.74%</text>
<text x="401.30" y="46.40" fill="#131722" font-size="12" text-anchor="start" font-weight="normal" textLength="10.6" lengthAdjust="spacingAndGlyphs" stroke="#131722" stroke-width="0.22">저</text>
<text x="412.20" y="46.40" fill="#089981" font-size="12" text-anchor="start" font-weight="normal" textLength="36.8" lengthAdjust="spacingAndGlyphs" stroke="#089981" stroke-width="0.22">58.40%</text>
<text x="456.30" y="46.40" fill="#131722" font-size="12" text-anchor="start" font-weight="normal" textLength="10.6" lengthAdjust="spacingAndGlyphs" stroke="#131722" stroke-width="0.22">종</text>
<text x="467.20" y="46.40" fill="#089981" font-size="12" text-anchor="start" font-weight="normal" textLength="36.8" lengthAdjust="spacingAndGlyphs" stroke="#089981" stroke-width="0.22">58.68%</text>
<text x="511.50" y="46.40" fill="#089981" font-size="12" text-anchor="start" font-weight="normal" textLength="78.7" lengthAdjust="spacingAndGlyphs" stroke="#089981" stroke-width="0.22">+0.28 (+0.48%)</text>
<g clip-path="url(#cs)">
<rect x="10" y="721" width="1309" height="74.5" fill="rgba(33,150,243,0.1)"/>
<line x1="10.00" y1="721.50" x2="1319.00" y2="721.50" stroke="#6a6d78" stroke-width="1" stroke-dasharray="5 6"/>
<line x1="10.00" y1="758.50" x2="1319.00" y2="758.50" stroke="#9a9da6" stroke-width="1" stroke-dasharray="5 6"/>
<line x1="10.00" y1="795.50" x2="1319.00" y2="795.50" stroke="#6a6d78" stroke-width="1" stroke-dasharray="5 6"/>
<polyline points="7.5,811.0 12.5,787.7 17.5,770.2 22.5,753.5 28.5,751.1 33.5,725.7 38.5,712.2 44.5,714.6 49.5,731.3 54.5,755.4 60.5,748.3 65.5,757.8 70.5,746.4 76.5,746.7 81.5,722.5 86.5,707.4 91.5,697.9 97.5,711.4 102.5,711.4 107.5,711.1 113.5,697.1 118.5,706.7 123.5,717.3 129.5,723.6 134.5,721.3 139.5,720.9 145.5,728.9 150.5,720.2 155.5,709.8 160.5,698.7 166.5,700.3 171.5,712.2 176.5,720.6 182.5,719.0 187.5,713.0 192.5,720.2 198.5,736.5 203.5,744.8 208.5,755.1 214.5,749.9 219.5,748.0 224.5,719.7 230.5,717.0 235.5,711.9 240.5,747.2 245.5,778.9 251.5,806.3 256.5,805.1 261.5,807.0 267.5,807.0 272.5,813.1 277.5,814.4 283.5,808.3 288.5,799.6 293.5,791.6 299.5,785.3 304.5,772.6 309.5,743.2 314.5,714.6 320.5,697.4 325.5,717.8 330.5,741.6 336.5,762.3 341.5,769.4 346.5,763.0 352.5,759.4 357.5,765.4 362.5,787.7 368.5,808.6 373.5,800.1 378.5,799.6 383.5,798.8 389.5,809.1 394.5,791.6 399.5,771.0 405.5,759.9 410.5,766.2 415.5,771.8 421.5,773.4 426.5,761.5 431.5,760.3 437.5,757.2 442.5,747.2 447.5,726.5 452.5,717.0 458.5,732.1 463.5,751.1 468.5,759.9 474.5,739.5 479.5,758.3 484.5,779.7 490.5,799.6 495.5,787.7 500.5,773.4 506.5,783.2 511.5,786.9 516.5,799.3 522.5,787.7 527.5,755.9 532.5,720.2 537.5,696.8 543.5,710.6 548.5,718.6 553.5,726.5 559.5,733.7 564.5,732.9 569.5,732.1 575.5,728.6 580.5,732.9 585.5,740.8 591.5,730.5 596.5,718.6 601.5,705.1 606.5,733.7 612.5,755.9 617.5,795.6 622.5,800.4 628.5,818.6 633.5,808.3 638.5,790.1 644.5,776.5 649.5,778.1 654.5,783.2 660.5,780.5 665.5,770.2 670.5,757.5 675.5,736.8 681.5,726.5 686.5,718.6 691.5,725.7 697.5,721.3 702.5,718.6 707.5,710.6 713.5,705.1 718.5,701.1 723.5,697.1 729.5,696.8 734.5,696.6 739.5,696.6 744.5,733.7 750.5,756.7 755.5,773.8 760.5,759.4 766.5,756.7 771.5,755.6 776.5,744.0 782.5,739.2 787.5,738.1 792.5,775.0 798.5,797.2 803.5,816.3 808.5,808.3 813.5,808.3 819.5,809.6 824.5,818.6 829.5,817.9 835.5,814.7 840.5,813.4 845.5,811.8 851.5,809.1 856.5,798.8 861.5,781.3 867.5,760.7 872.5,738.4 877.5,717.0 883.5,708.2 888.5,707.4 893.5,717.5 898.5,724.6 904.5,724.9 909.5,728.9 914.5,720.2 920.5,717.3 925.5,731.3 930.5,762.3 936.5,758.3 941.5,728.1 946.5,696.8 952.5,722.5 957.5,755.9 962.5,792.4 967.5,809.1 973.5,809.1 978.5,779.7 983.5,768.9 989.5,768.9 994.5,785.6" fill="none" stroke="#2962ff" stroke-width="1.1" stroke-linejoin="round"/>
<polyline points="7.5,819.0 12.5,802.4 17.5,785.8 22.5,769.7 28.5,759.1 33.5,744.0 38.5,729.7 44.5,718.6 49.5,718.6 54.5,733.7 60.5,744.0 65.5,753.5 70.5,750.7 76.5,750.3 81.5,738.4 86.5,725.7 91.5,709.5 97.5,705.4 102.5,706.7 107.5,711.4 113.5,706.7 118.5,705.1 123.5,707.4 129.5,715.7 134.5,720.6 139.5,721.7 145.5,723.6 150.5,724.1 155.5,720.2 160.5,709.8 166.5,702.7 171.5,701.9 176.5,710.6 182.5,717.0 187.5,717.5 192.5,717.3 198.5,723.3 203.5,733.7 208.5,745.1 214.5,749.5 219.5,751.1 224.5,738.4 230.5,728.1 235.5,716.2 240.5,725.7 245.5,746.4 251.5,775.0 256.5,795.6 261.5,806.3 267.5,806.3 272.5,809.1 277.5,811.5 283.5,812.3 288.5,807.5 293.5,799.6 299.5,792.4 304.5,782.9 309.5,767.0 314.5,743.2 320.5,718.6 325.5,709.5 330.5,717.8 336.5,740.0 341.5,757.5 346.5,765.0 352.5,764.2 357.5,763.0 362.5,771.0 368.5,786.9 373.5,798.8 378.5,802.8 383.5,799.6 389.5,802.8 394.5,801.2 399.5,790.8 405.5,775.0 410.5,765.7 415.5,766.2 421.5,770.2 426.5,768.6 431.5,765.1 437.5,759.9 442.5,755.1 447.5,744.0 452.5,729.7 458.5,724.9 463.5,733.7 468.5,747.6 474.5,749.9 479.5,752.7 484.5,759.9 490.5,779.7 495.5,789.3 500.5,786.9 506.5,781.6 511.5,781.0 516.5,789.6 522.5,791.2 527.5,780.5 532.5,754.3 537.5,724.1 543.5,709.5 548.5,709.0 553.5,719.4 559.5,726.5 564.5,731.3 569.5,733.2 575.5,731.3 580.5,731.6 585.5,734.0 591.5,734.5 596.5,729.7 601.5,717.8 606.5,719.0 612.5,732.1 617.5,762.3 622.5,784.5 628.5,805.1 633.5,809.1 638.5,805.9 644.5,791.6 649.5,781.3 654.5,779.2 660.5,780.5 665.5,777.8 670.5,768.6 675.5,755.1 681.5,740.0 686.5,727.6 691.5,723.6 697.5,722.1 702.5,722.2 707.5,717.0 713.5,711.4 718.5,705.9 723.5,701.1 729.5,698.4 734.5,696.8 739.5,696.6 744.5,709.0 750.5,728.9 755.5,754.3 760.5,762.6 766.5,763.5 771.5,757.2 776.5,751.9 782.5,746.0 787.5,740.5 792.5,751.1 798.5,770.2 803.5,796.4 808.5,807.0 813.5,811.0 819.5,808.8 824.5,812.3 829.5,815.5 835.5,817.1 840.5,815.0 845.5,813.1 851.5,811.5 856.5,806.7 861.5,796.4 867.5,780.5 872.5,759.1 877.5,736.8 883.5,720.2 888.5,711.1 893.5,710.6 898.5,716.2 904.5,721.7 909.5,726.0 914.5,724.1 920.5,722.2 925.5,723.3 930.5,736.8 936.5,750.3 941.5,750.3 946.5,727.3 952.5,715.7 957.5,724.6 962.5,757.5 967.5,786.1 973.5,803.6 978.5,798.8 983.5,785.8 989.5,772.6 994.5,774.5" fill="none" stroke="#ff6d00" stroke-width="1.1" stroke-linejoin="round"/>
</g>
<text x="17.50" y="701.00" fill="#131722" font-size="12" text-anchor="start" font-weight="normal" textLength="159.5" lengthAdjust="spacingAndGlyphs" stroke="#131722" stroke-width="0.22">Stoch RSI (3, 3, 14, 14, close)</text>
<text x="183.60" y="701.00" fill="#2962ff" font-size="12" text-anchor="start" font-weight="normal" textLength="29.6" lengthAdjust="spacingAndGlyphs" stroke="#2962ff" stroke-width="0.22">27.21</text>
<text x="220.00" y="701.00" fill="#ff6d00" font-size="12" text-anchor="start" font-weight="normal" textLength="29.6" lengthAdjust="spacingAndGlyphs" stroke="#ff6d00" stroke-width="0.22">36.31</text>
<text x="1328.00" y="671.56" fill="#131722" font-size="12" text-anchor="start" font-weight="normal" textLength="36.8" lengthAdjust="spacingAndGlyphs" stroke="#131722" stroke-width="0.22">51.00%</text>
<text x="1328.00" y="639.78" fill="#131722" font-size="12" text-anchor="start" font-weight="normal" textLength="36.8" lengthAdjust="spacingAndGlyphs" stroke="#131722" stroke-width="0.22">52.00%</text>
<text x="1328.00" y="608.00" fill="#131722" font-size="12" text-anchor="start" font-weight="normal" textLength="36.8" lengthAdjust="spacingAndGlyphs" stroke="#131722" stroke-width="0.22">53.00%</text>
<text x="1328.00" y="576.22" fill="#131722" font-size="12" text-anchor="start" font-weight="normal" textLength="36.8" lengthAdjust="spacingAndGlyphs" stroke="#131722" stroke-width="0.22">54.00%</text>
<text x="1328.00" y="544.44" fill="#131722" font-size="12" text-anchor="start" font-weight="normal" textLength="36.8" lengthAdjust="spacingAndGlyphs" stroke="#131722" stroke-width="0.22">55.00%</text>
<text x="1328.00" y="512.66" fill="#131722" font-size="12" text-anchor="start" font-weight="normal" textLength="36.8" lengthAdjust="spacingAndGlyphs" stroke="#131722" stroke-width="0.22">56.00%</text>
<text x="1328.00" y="480.88" fill="#131722" font-size="12" text-anchor="start" font-weight="normal" textLength="36.8" lengthAdjust="spacingAndGlyphs" stroke="#131722" stroke-width="0.22">57.00%</text>
<text x="1328.00" y="449.10" fill="#131722" font-size="12" text-anchor="start" font-weight="normal" textLength="36.8" lengthAdjust="spacingAndGlyphs" stroke="#131722" stroke-width="0.22">58.00%</text>
<text x="1328.00" y="417.32" fill="#131722" font-size="12" text-anchor="start" font-weight="normal" textLength="36.8" lengthAdjust="spacingAndGlyphs" stroke="#131722" stroke-width="0.22">59.00%</text>
<text x="1328.00" y="385.54" fill="#131722" font-size="12" text-anchor="start" font-weight="normal" textLength="36.8" lengthAdjust="spacingAndGlyphs" stroke="#131722" stroke-width="0.22">60.00%</text>
<text x="1328.00" y="353.76" fill="#131722" font-size="12" text-anchor="start" font-weight="normal" textLength="36.8" lengthAdjust="spacingAndGlyphs" stroke="#131722" stroke-width="0.22">61.00%</text>
<text x="1328.00" y="321.98" fill="#131722" font-size="12" text-anchor="start" font-weight="normal" textLength="36.8" lengthAdjust="spacingAndGlyphs" stroke="#131722" stroke-width="0.22">62.00%</text>
<text x="1328.00" y="290.20" fill="#131722" font-size="12" text-anchor="start" font-weight="normal" textLength="36.8" lengthAdjust="spacingAndGlyphs" stroke="#131722" stroke-width="0.22">63.00%</text>
<text x="1328.00" y="258.42" fill="#131722" font-size="12" text-anchor="start" font-weight="normal" textLength="36.8" lengthAdjust="spacingAndGlyphs" stroke="#131722" stroke-width="0.22">64.00%</text>
<text x="1328.00" y="226.64" fill="#131722" font-size="12" text-anchor="start" font-weight="normal" textLength="36.8" lengthAdjust="spacingAndGlyphs" stroke="#131722" stroke-width="0.22">65.00%</text>
<text x="1328.00" y="194.86" fill="#131722" font-size="12" text-anchor="start" font-weight="normal" textLength="36.8" lengthAdjust="spacingAndGlyphs" stroke="#131722" stroke-width="0.22">66.00%</text>
<text x="1328.00" y="163.08" fill="#131722" font-size="12" text-anchor="start" font-weight="normal" textLength="36.8" lengthAdjust="spacingAndGlyphs" stroke="#131722" stroke-width="0.22">67.00%</text>
<text x="1328.00" y="131.30" fill="#131722" font-size="12" text-anchor="start" font-weight="normal" textLength="36.8" lengthAdjust="spacingAndGlyphs" stroke="#131722" stroke-width="0.22">68.00%</text>
<text x="1328.00" y="99.52" fill="#131722" font-size="12" text-anchor="start" font-weight="normal" textLength="36.8" lengthAdjust="spacingAndGlyphs" stroke="#131722" stroke-width="0.22">69.00%</text>
<text x="1328.00" y="67.74" fill="#131722" font-size="12" text-anchor="start" font-weight="normal" textLength="36.8" lengthAdjust="spacingAndGlyphs" stroke="#131722" stroke-width="0.22">70.00%</text>
<rect x="1320" y="27" width="54.59999999999991" height="34" fill="#f7f6e6"/>
<rect x="1323" y="31" width="47.6" height="26" rx="4.5" fill="#ffffff" stroke="#f0efe6" stroke-width="0.8"/>
<text x="1331.50" y="48.50" fill="#131722" font-size="12" text-anchor="start" font-weight="normal" textLength="7.2" lengthAdjust="spacingAndGlyphs" stroke="#131722" stroke-width="0.22">%</text>
<text x="1328.00" y="702.20" fill="#131722" font-size="12" text-anchor="start" font-weight="normal" textLength="35.8" lengthAdjust="spacingAndGlyphs" stroke="#131722" stroke-width="0.22">100.00</text>
<text x="1328.00" y="732.73" fill="#131722" font-size="12" text-anchor="start" font-weight="normal" textLength="29.6" lengthAdjust="spacingAndGlyphs" stroke="#131722" stroke-width="0.22">75.00</text>
<text x="1328.00" y="763.25" fill="#131722" font-size="12" text-anchor="start" font-weight="normal" textLength="29.6" lengthAdjust="spacingAndGlyphs" stroke="#131722" stroke-width="0.22">50.00</text>
<text x="1328.00" y="793.78" fill="#131722" font-size="12" text-anchor="start" font-weight="normal" textLength="29.6" lengthAdjust="spacingAndGlyphs" stroke="#131722" stroke-width="0.22">25.00</text>
<text x="1328.00" y="824.30" fill="#131722" font-size="12" text-anchor="start" font-weight="normal" textLength="23.3" lengthAdjust="spacingAndGlyphs" stroke="#131722" stroke-width="0.22">0.00</text>
<rect x="1320" y="77" width="50" height="17" rx="1.5" fill="#f23645"/>
<text x="1328.00" y="89.90" fill="#ffffff" font-size="12" text-anchor="start" font-weight="normal" textLength="36.8" lengthAdjust="spacingAndGlyphs" stroke="#ffffff" stroke-width="0.35">69.33%</text>
<rect x="1320" y="269" width="50" height="17" rx="1.5" fill="#f23645"/>
<text x="1328.00" y="281.90" fill="#ffffff" font-size="12" text-anchor="start" font-weight="normal" textLength="36.8" lengthAdjust="spacingAndGlyphs" stroke="#ffffff" stroke-width="0.35">63.28%</text>
<rect x="1320" y="291" width="50" height="17" rx="1.5" fill="#f23645"/>
<text x="1328.00" y="303.90" fill="#ffffff" font-size="12" text-anchor="start" font-weight="normal" textLength="36.8" lengthAdjust="spacingAndGlyphs" stroke="#ffffff" stroke-width="0.35">62.57%</text>
<rect x="1320" y="357" width="50" height="17" rx="1.5" fill="#f23645"/>
<text x="1328.00" y="369.90" fill="#ffffff" font-size="12" text-anchor="start" font-weight="normal" textLength="36.8" lengthAdjust="spacingAndGlyphs" stroke="#ffffff" stroke-width="0.35">60.51%</text>
<rect x="1320" y="461" width="50" height="17" rx="1.5" fill="#089981"/>
<text x="1328.00" y="473.90" fill="#ffffff" font-size="12" text-anchor="start" font-weight="normal" textLength="36.8" lengthAdjust="spacingAndGlyphs" stroke="#ffffff" stroke-width="0.35">57.22%</text>
<rect x="1320" y="665" width="50" height="16" rx="1.5" fill="#089981"/>
<text x="1328.00" y="678.10" fill="#ffffff" font-size="12" text-anchor="start" font-weight="normal" textLength="36.8" lengthAdjust="spacingAndGlyphs" stroke="#ffffff" stroke-width="0.35">50.53%</text>
<rect x="1320" y="415" width="50" height="31" rx="1.5" fill="#089981"/>
<text x="1328.00" y="427.90" fill="#ffffff" font-size="12" text-anchor="start" font-weight="normal" textLength="36.8" lengthAdjust="spacingAndGlyphs" stroke="#ffffff" stroke-width="0.35">58.68%</text>
<text x="1328.00" y="441.80" fill="#c9ebe4" font-size="12" text-anchor="start" font-weight="normal" textLength="29.4" lengthAdjust="spacingAndGlyphs" stroke="#c9ebe4" stroke-width="0.22">3d 1h</text>
<rect x="1278" y="415" width="41" height="17" rx="1.5" fill="#089981"/>
<text x="1282.00" y="427.90" fill="#ffffff" font-size="12" text-anchor="start" font-weight="normal" textLength="32.7" lengthAdjust="spacingAndGlyphs" stroke="#ffffff" stroke-width="0.35">BTC.D</text>
<rect x="1320" y="761" width="43" height="17" rx="1.5" fill="#ff6d00"/>
<text x="1328.00" y="773.90" fill="#ffffff" font-size="12" text-anchor="start" font-weight="normal" textLength="29.6" lengthAdjust="spacingAndGlyphs" stroke="#ffffff" stroke-width="0.35">36.31</text>
<rect x="1320" y="778" width="43" height="17" rx="1.5" fill="#2962ff"/>
<text x="1328.00" y="790.90" fill="#ffffff" font-size="12" text-anchor="start" font-weight="normal" textLength="29.6" lengthAdjust="spacingAndGlyphs" stroke="#ffffff" stroke-width="0.35">27.21</text>
<text x="97.00" y="850.00" fill="#131722" font-size="12" text-anchor="middle" font-weight="bold" textLength="27.6" lengthAdjust="spacingAndGlyphs" stroke="none">2023</text>
<text x="235.00" y="850.00" fill="#131722" font-size="12" text-anchor="middle" font-weight="normal" textLength="17.0" lengthAdjust="spacingAndGlyphs" stroke="#131722" stroke-width="0.5">7월</text>
<text x="373.00" y="850.00" fill="#131722" font-size="12" text-anchor="middle" font-weight="bold" textLength="27.6" lengthAdjust="spacingAndGlyphs" stroke="none">2024</text>
<text x="511.00" y="850.00" fill="#131722" font-size="12" text-anchor="middle" font-weight="normal" textLength="17.0" lengthAdjust="spacingAndGlyphs" stroke="#131722" stroke-width="0.5">7월</text>
<text x="654.00" y="850.00" fill="#131722" font-size="12" text-anchor="middle" font-weight="bold" textLength="27.6" lengthAdjust="spacingAndGlyphs" stroke="none">2025</text>
<text x="792.00" y="850.00" fill="#131722" font-size="12" text-anchor="middle" font-weight="normal" textLength="17.0" lengthAdjust="spacingAndGlyphs" stroke="#131722" stroke-width="0.5">7월</text>
<text x="930.00" y="850.00" fill="#131722" font-size="12" text-anchor="middle" font-weight="bold" textLength="27.6" lengthAdjust="spacingAndGlyphs" stroke="none">2026</text>
<text x="1068.00" y="850.00" fill="#131722" font-size="12" text-anchor="middle" font-weight="normal" textLength="17.0" lengthAdjust="spacingAndGlyphs" stroke="#131722" stroke-width="0.5">7월</text>
<text x="1206.00" y="850.00" fill="#131722" font-size="12" text-anchor="middle" font-weight="bold" textLength="27.6" lengthAdjust="spacingAndGlyphs" stroke="none">2027</text>
<g fill="#161616">
<path d="M11.8 882.2 H23.8 V896.9 H17.6 V888 H11.8 Z"/>
<circle cx="28.9" cy="885" r="2.65"/>
<path d="M33.5 882.2 H41.9 L37.3 896.9 H28.9 Z"/>
</g>
<text x="48.60" y="896.90" fill="#161616" font-size="20.5" text-anchor="start" font-weight="bold" textLength="121.5" lengthAdjust="spacingAndGlyphs" stroke="none">TradingView</text>
</svg>
</body></html>
